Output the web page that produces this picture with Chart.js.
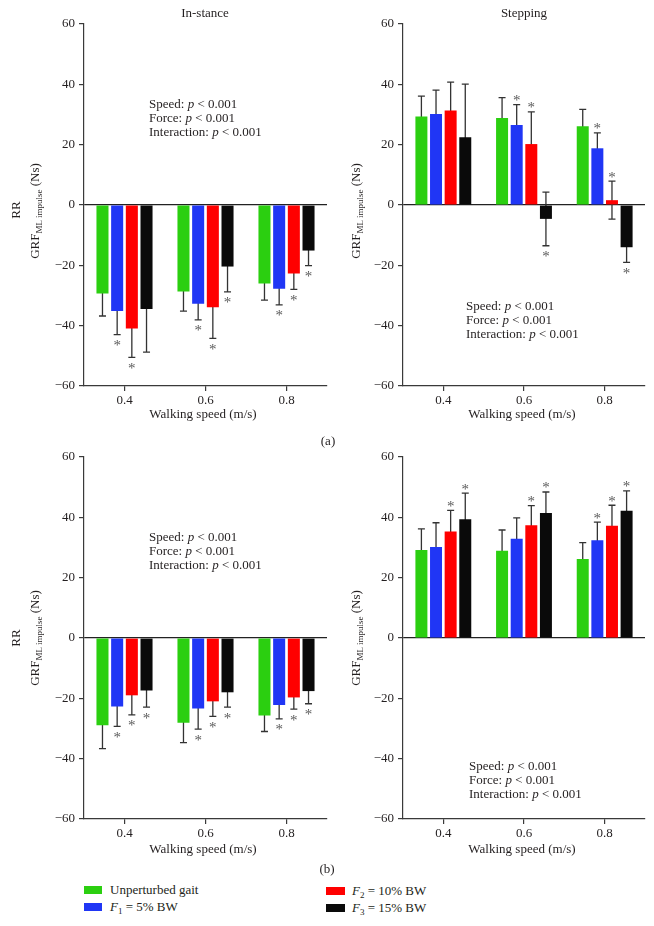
<!DOCTYPE html>
<html>
<head>
<meta charset="utf-8">
<script src="https://cdn.jsdelivr.net/npm/chart.js@4.4.0/dist/chart.umd.min.js"></script>
<style>
body { margin: 0; background: #fff; width: 654px; height: 926px; position: relative; overflow: hidden;
       font-family: "Liberation Serif", "DejaVu Serif", serif; color: #231f20; }
canvas { position: absolute; }
.t { position: absolute; font-size: 13px; white-space: nowrap; transform: translate(-50%, -50%); }
.rot { transform: translate(-50%, -50%) rotate(-90deg); }
.stats { position: absolute; font-size: 13px; line-height: 14px; white-space: nowrap; }
.box { position: absolute; width: 18px; height: 8px; }
.lg { position: absolute; font-size: 13px; white-space: nowrap; transform: translateY(-50%); }
sub { font-size: 9px; vertical-align: -3px; line-height: 0; }
i { font-style: italic; }
</style>
</head>
<body>

<canvas id="c1" width="340" height="410" style="left:0;top:0"></canvas>
<canvas id="c2" width="324" height="410" style="left:330px;top:0"></canvas>
<canvas id="c3" width="340" height="410" style="left:0;top:440px"></canvas>
<canvas id="c4" width="324" height="410" style="left:330px;top:440px"></canvas>

<div class="t" style="left:205px;top:13px">In-stance</div>
<div class="t" style="left:524px;top:13px">Stepping</div>

<div class="t rot" style="left:16px;top:210px">RR</div>
<div class="t rot" style="left:35px;top:211px">GRF<sub>ML impulse</sub> (Ns)</div>
<div class="t rot" style="left:356px;top:211px">GRF<sub>ML impulse</sub> (Ns)</div>
<div class="t rot" style="left:16px;top:638px">RR</div>
<div class="t rot" style="left:35px;top:638px">GRF<sub>ML impulse</sub> (Ns)</div>
<div class="t rot" style="left:356px;top:638px">GRF<sub>ML impulse</sub> (Ns)</div>

<div class="t" style="left:203px;top:414px">Walking speed (m/s)</div>
<div class="t" style="left:522px;top:414px">Walking speed (m/s)</div>
<div class="t" style="left:203px;top:849px">Walking speed (m/s)</div>
<div class="t" style="left:522px;top:849px">Walking speed (m/s)</div>
<div class="t" style="left:328px;top:441px">(a)</div>
<div class="t" style="left:327px;top:869px">(b)</div>

<div class="stats" style="left:149px;top:97px">Speed: <i>p</i> &lt; 0.001<br>Force: <i>p</i> &lt; 0.001<br>Interaction: <i>p</i> &lt; 0.001</div>
<div class="stats" style="left:466px;top:299px">Speed: <i>p</i> &lt; 0.001<br>Force: <i>p</i> &lt; 0.001<br>Interaction: <i>p</i> &lt; 0.001</div>
<div class="stats" style="left:149px;top:530px">Speed: <i>p</i> &lt; 0.001<br>Force: <i>p</i> &lt; 0.001<br>Interaction: <i>p</i> &lt; 0.001</div>
<div class="stats" style="left:469px;top:759px">Speed: <i>p</i> &lt; 0.001<br>Force: <i>p</i> &lt; 0.001<br>Interaction: <i>p</i> &lt; 0.001</div>

<div class="box" style="left:84px;top:886px;background:#2bcf10"></div>
<div class="lg" style="left:110px;top:890px">Unperturbed gait</div>
<div class="box" style="left:84px;top:903px;background:#2036f5"></div>
<div class="lg" style="left:110px;top:907px"><i>F</i><sub>1</sub> = 5% BW</div>
<div class="box" style="left:326px;top:887px;width:19px;background:#ff0000"></div>
<div class="lg" style="left:352px;top:891px"><i>F</i><sub>2</sub> = 10% BW</div>
<div class="box" style="left:326px;top:904px;width:19px;background:#0a0a0a"></div>
<div class="lg" style="left:352px;top:908px"><i>F</i><sub>3</sub> = 15% BW</div>

<script>
const speeds = ["0.4", "0.6", "0.8"];
const seriesNames = ["Unperturbed gait", "F1 = 5% BW", "F2 = 10% BW", "F3 = 15% BW"];
const seriesColors = ["#2bcf10", "#2036f5", "#ff0000", "#0a0a0a"];
const yTicks = [-60, -40, -20, 0, 20, 40, 60];

// (a) in-stance
const aStanceMean = [[-29.3, -28.7, -26.0], [-35.1, -32.7, -27.8], [-40.9, -33.9, -22.7], [-34.5, -20.4, -15.1]];
const aStanceErr  = [[7.5, 6.5, 5.5], [7.9, 5.4, 5.3], [9.6, 10.3, 5.3], [14.3, 8.4, 5.0]];
const aStanceStar = [[0, 0, 0], [1, 1, 1], [1, 1, 1], [0, 1, 1]];

// (a) stepping
const aStepMean = [[29.3, 28.8, 26.1], [30.2, 26.5, 18.8], [31.3, 20.2, 1.6], [22.5, -4.6, -14.0]];
const aStepErr  = [[6.8, 6.8, 5.6], [7.9, 6.8, 5.1], [9.4, 10.7, 6.3], [17.6, 8.9, 5.0]];
const aStepStar = [[0, 0, 0], [0, 1, 1], [0, 1, 1], [0, 1, 1]];

// (b) in-stance
const bStanceMean = [[-28.9, -28.1, -25.7], [-22.7, -23.4, -22.2], [-19.0, -21.0, -19.7], [-17.4, -18.0, -17.6]];
const bStanceErr  = [[7.8, 6.6, 5.3], [6.6, 6.8, 4.6], [6.5, 5.0, 3.9], [5.5, 4.9, 4.2]];
const bStanceStar = [[0, 0, 0], [1, 1, 1], [1, 1, 1], [1, 1, 1]];

// (b) stepping
const bStepMean = [[29.2, 28.9, 26.2], [30.2, 32.9, 32.4], [35.3, 37.4, 37.2], [39.4, 41.4, 42.2]];
const bStepErr  = [[7.0, 6.9, 5.4], [8.0, 6.9, 6.0], [7.0, 6.5, 6.8], [8.6, 7.0, 6.6]];
const bStepStar = [[0, 0, 0], [0, 0, 1], [1, 1, 1], [1, 1, 1]];

const FONT = "'Liberation Serif', 'DejaVu Serif', serif";
const AXIS = "#3a3a3a";

// error bars under the bars, asterisks on top
const errorBars = {
    id: "errorBars",
    beforeDatasetsDraw(chart, args, opts) {
        const ctx = chart.ctx;
        const y = chart.scales.y;
        ctx.save();
        ctx.strokeStyle = "#333";
        ctx.lineWidth = 1.3;
        chart.data.datasets.forEach((ds, i) => {
            chart.getDatasetMeta(i).data.forEach((bar, j) => {
                const m = ds.data[j], e = opts.err[i][j];
                const hi = y.getPixelForValue(m + e), lo = y.getPixelForValue(m - e);
                ctx.beginPath();
                ctx.moveTo(bar.x, hi); ctx.lineTo(bar.x, lo);
                ctx.moveTo(bar.x - 3.5, hi); ctx.lineTo(bar.x + 3.5, hi);
                ctx.moveTo(bar.x - 3.5, lo); ctx.lineTo(bar.x + 3.5, lo);
                ctx.stroke();
            });
        });
        ctx.restore();
    },
    afterDatasetsDraw(chart, args, opts) {
        const ctx = chart.ctx;
        const y = chart.scales.y;
        ctx.save();
        ctx.fillStyle = "#5a5a5a";
        ctx.font = "15px " + FONT;
        ctx.textAlign = "center";
        ctx.textBaseline = "alphabetic";
        chart.data.datasets.forEach((ds, i) => {
            chart.getDatasetMeta(i).data.forEach((bar, j) => {
                if (!opts.star[i][j]) return;
                const m = ds.data[j], e = opts.err[i][j];
                const up = m >= 0;
                const py = y.getPixelForValue(up ? m + e : m - e) + (up ? -7.5 : 7.5);
                ctx.fillText("*", bar.x, py + 8);
            });
        });
        ctx.restore();
    }
};

function makeChart(id, mean, err, star, pad) {
    return new Chart(document.getElementById(id), {
        type: "bar",
        data: {
            labels: speeds,
            datasets: mean.map((vals, i) => ({
                label: seriesNames[i],
                data: vals,
                backgroundColor: seriesColors[i],
                borderWidth: 0,
                barPercentage: 0.82,
                categoryPercentage: 0.725
            }))
        },
        options: {
            responsive: false,
            animation: false,
            devicePixelRatio: 1,
            layout: { padding: pad },
            plugins: {
                legend: { display: false },
                tooltip: { enabled: false },
                errorBars: { err: err, star: star }
            },
            scales: {
                x: {
                    grid: { display: true, drawOnChartArea: false, drawTicks: true, tickLength: 5, offset: false, tickColor: AXIS, lineWidth: 1.2 },
                    border: { color: AXIS, width: 1.2 },
                    ticks: { color: "#231f20", font: { family: FONT, size: 13 }, padding: 2, maxRotation: 0 },
                    afterFit: s => { s.height = 20; }
                },
                y: {
                    min: -60, max: 60,
                    afterBuildTicks: s => { s.ticks = yTicks.map(v => ({ value: v })); },
                    grid: {
                        color: c => (c.tick && c.tick.value === 0) ? "#222" : "rgba(0,0,0,0)",
                        tickColor: AXIS, tickLength: 5, lineWidth: 1.2
                    },
                    border: { color: AXIS, width: 1.2 },
                    ticks: {
                        color: "#231f20", font: { family: FONT, size: 13 }, padding: 4,
                        callback: v => String(v).replace("-", "\u2212")
                    },
                    afterFit: s => { s.width = 40; }
                }
            }
        },
        plugins: [errorBars]
    });
}

makeChart("c1", aStanceMean, aStanceErr, aStanceStar, { left: 44, right: 13, top: 24, bottom: 4 });
makeChart("c2", aStepMean, aStepErr, aStepStar, { left: 33, right: 9, top: 24, bottom: 4 });
makeChart("c3", bStanceMean, bStanceErr, bStanceStar, { left: 44, right: 13, top: 17, bottom: 11 });
makeChart("c4", bStepMean, bStepErr, bStepStar, { left: 33, right: 9, top: 17, bottom: 11 });
</script>
</body>
</html>
